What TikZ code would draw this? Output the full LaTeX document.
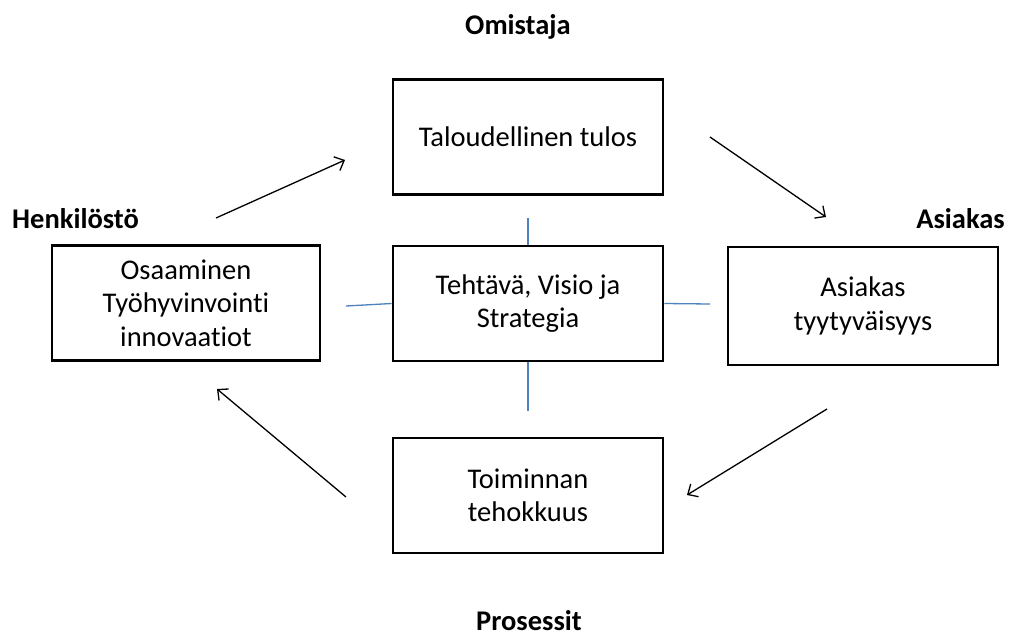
\documentclass[tikz,border=0pt]{standalone}
\usepackage{fontspec}
\setmainfont{Carlito}[Ligatures={NoCommon}]
\usetikzlibrary{arrows.meta}
\definecolor{linkblue}{HTML}{4F81BD}
\tikzset{
  box/.style={draw=black, line width=2.6pt, minimum width=270pt, minimum height=115pt,
    inner sep=0pt, align=center, font=\fontsize{28.5}{33.5}\selectfont},
  head/.style={font=\bfseries\fontsize{28.5}{33}\selectfont, inner sep=0pt},
  flow/.style={draw=black, line width=1.3pt, -{Straight Barb[length=8pt,width=15pt,line width=1.3pt]}},
  link/.style={draw=linkblue, line width=1.3pt}
}
\begin{document}
\begin{tikzpicture}[x=1pt,y=-1pt]
  \useasboundingbox[fill=white] (0,0) rectangle (1015,634);

  % perspective boxes
  \node[box] (talous)  at (528,137)   {Taloudellinen tulos};
  \node[box] (visio)   at (528,303.5) {Tehtävä, Visio ja\\Strategia};
  \node[box, minimum width=268pt] (osaaminen) at (186,303) {Osaaminen\\Työhyvinvointi\\innovaatiot};
  \node[box, minimum height=118pt] (asiakas) at (863,306) {Asiakas\\tyytyväisyys};
  \node[box] (toiminta) at (528,495.5) {Toiminnan\\tehokkuus};

  % perspective headings
  \node[head] (omistaja) at (518,27) {Omistaja};
  \node[head, anchor=west] (henkilosto) at (12,219) {Henkilöstö};
  \node[head, anchor=east] (asiakashead) at (1005,219) {Asiakas};
  \node[head, anchor=base] (prosessit) at (529,630) {Prosessit};

  % links from the strategy box
  \coordinate (lt) at (528,218);
  \coordinate (lb) at (528,411);
  \coordinate (ll) at (346,306);
  \coordinate (lr) at (710,304);
  \draw[link] (visio.north) -- (lt);
  \draw[link] (visio.south) -- (lb);
  \draw[link] (visio.west) -- (ll);
  \draw[link] (visio.east) -- (lr);

  % cycle arrows
  \coordinate (a1s) at (216,218);
  \coordinate (a1e) at (345,160);
  \coordinate (a2s) at (710,137);
  \coordinate (a2e) at (826,217);
  \coordinate (a3s) at (827,409);
  \coordinate (a3e) at (687,495);
  \coordinate (a4s) at (346,497);
  \coordinate (a4e) at (217,389);
  \draw[flow] (a1s) -- (a1e);
  \draw[flow] (a2s) -- (a2e);
  \draw[flow] (a3s) -- (a3e);
  \draw[flow] (a4s) -- (a4e);
\end{tikzpicture}
\end{document}
